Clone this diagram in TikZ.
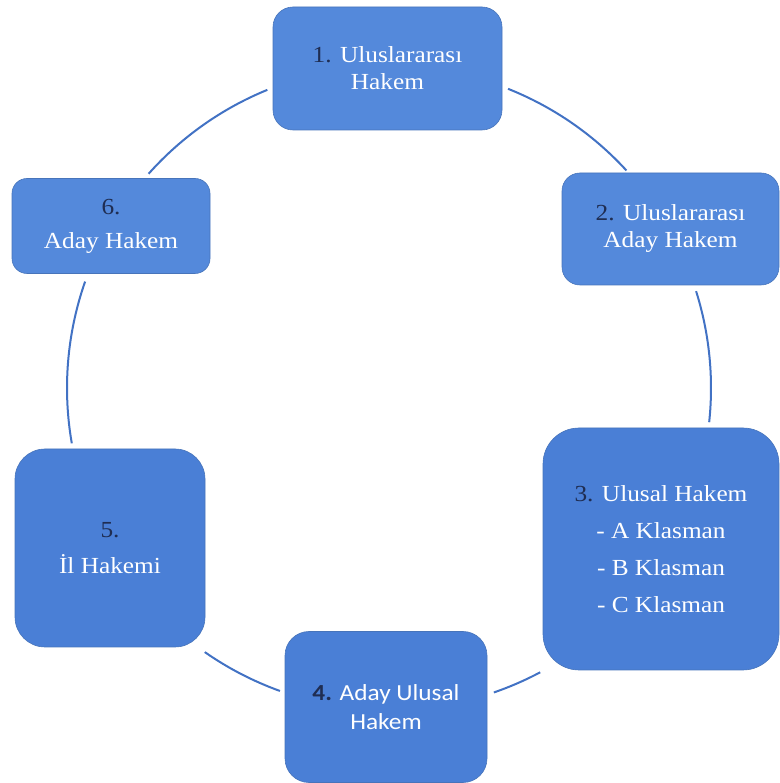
\documentclass[tikz,border=0pt]{standalone}
\usepackage{fontspec}
\setmainfont{Liberation Serif}[FakeStretch=1.1]
\newfontfamily\calfont{Carlito}[FakeStretch=1.1]
\usetikzlibrary{calc}

\definecolor{boxblue}{RGB}{84,137,219}
\definecolor{deepblue}{RGB}{74,127,214}
\definecolor{ringblue}{RGB}{66,114,196}
\definecolor{numblue}{RGB}{31,45,82}
\newcommand{\stepno}[1]{\textcolor{numblue}{#1}}

\tikzset{
  stage/.style={draw=boxblue!85!black, line width=0.6pt, fill=boxblue,
    text=white, align=center, inner sep=0pt,
    font=\fontsize{23}{27}\selectfont},
  ring/.style={ringblue, line width=2pt},
}

\begin{document}
\begin{tikzpicture}[x=1pt, y=1pt]
	\useasboundingbox (0,0) rectangle (779,783);
	
	% Circle through the stages
	\coordinate (ctr) at (389,395);
	\def\rad{322}
	
	\draw[ring] (ctr) ++(112.2:\rad) arc[start angle=112.2, end angle=138.3, radius=\rad];
	\draw[ring] (ctr) ++(68.3:\rad) arc[start angle=68.3, end angle=42.5, radius=\rad];
	\draw[ring] (ctr) ++(17.5:\rad) arc[start angle=17.5, end angle=-6.1, radius=\rad];
	\draw[ring] (ctr) ++(-62:\rad) arc[start angle=-62, end angle=-71, radius=\rad];
	\draw[ring] (ctr) ++(-109.8:\rad) arc[start angle=-109.8, end angle=-124.9, radius=\rad];
	\draw[ring] (ctr) ++(189.9:\rad) arc[start angle=189.9, end angle=160.7, radius=\rad];
	
	% Stages
	\node[stage, minimum width=229pt, minimum height=123pt, rounded corners=20pt]
		(s1) at (387.5,714.5) {\stepno{1.} Uluslararası\\Hakem};
	\node[stage, minimum width=217pt, minimum height=112pt, rounded corners=18pt]
		(s2) at (670.5,554) {\stepno{2.} Uluslararası\\Aday Hakem};
	\node[stage, minimum width=236pt, minimum height=242pt, rounded corners=36pt,
		fill=deepblue, font=\fontsize{23}{37}\selectfont]
		(s3) at (661,234) {\stepno{3.} Ulusal Hakem\\- A Klasman\\- B Klasman\\- C Klasman};
	\node[stage, minimum width=202pt, minimum height=151pt, rounded corners=24pt,
		fill=deepblue, font=\calfont\fontsize{23}{29}\selectfont]
		(s4) at (386,76) {\stepno{\bfseries 4.} Aday Ulusal\\Hakem};
	\node[stage, minimum width=190pt, minimum height=198pt, rounded corners=30pt,
		fill=deepblue, font=\fontsize{23}{36}\selectfont]
		(s5) at (110,235) {\stepno{5.}\\İl Hakemi};
	\node[stage, minimum width=198pt, minimum height=95pt, rounded corners=15pt,
		font=\fontsize{23}{34}\selectfont]
		(s6) at (111,557) {\stepno{6.}\\Aday Hakem};
	
\end{tikzpicture}
\end{document}
